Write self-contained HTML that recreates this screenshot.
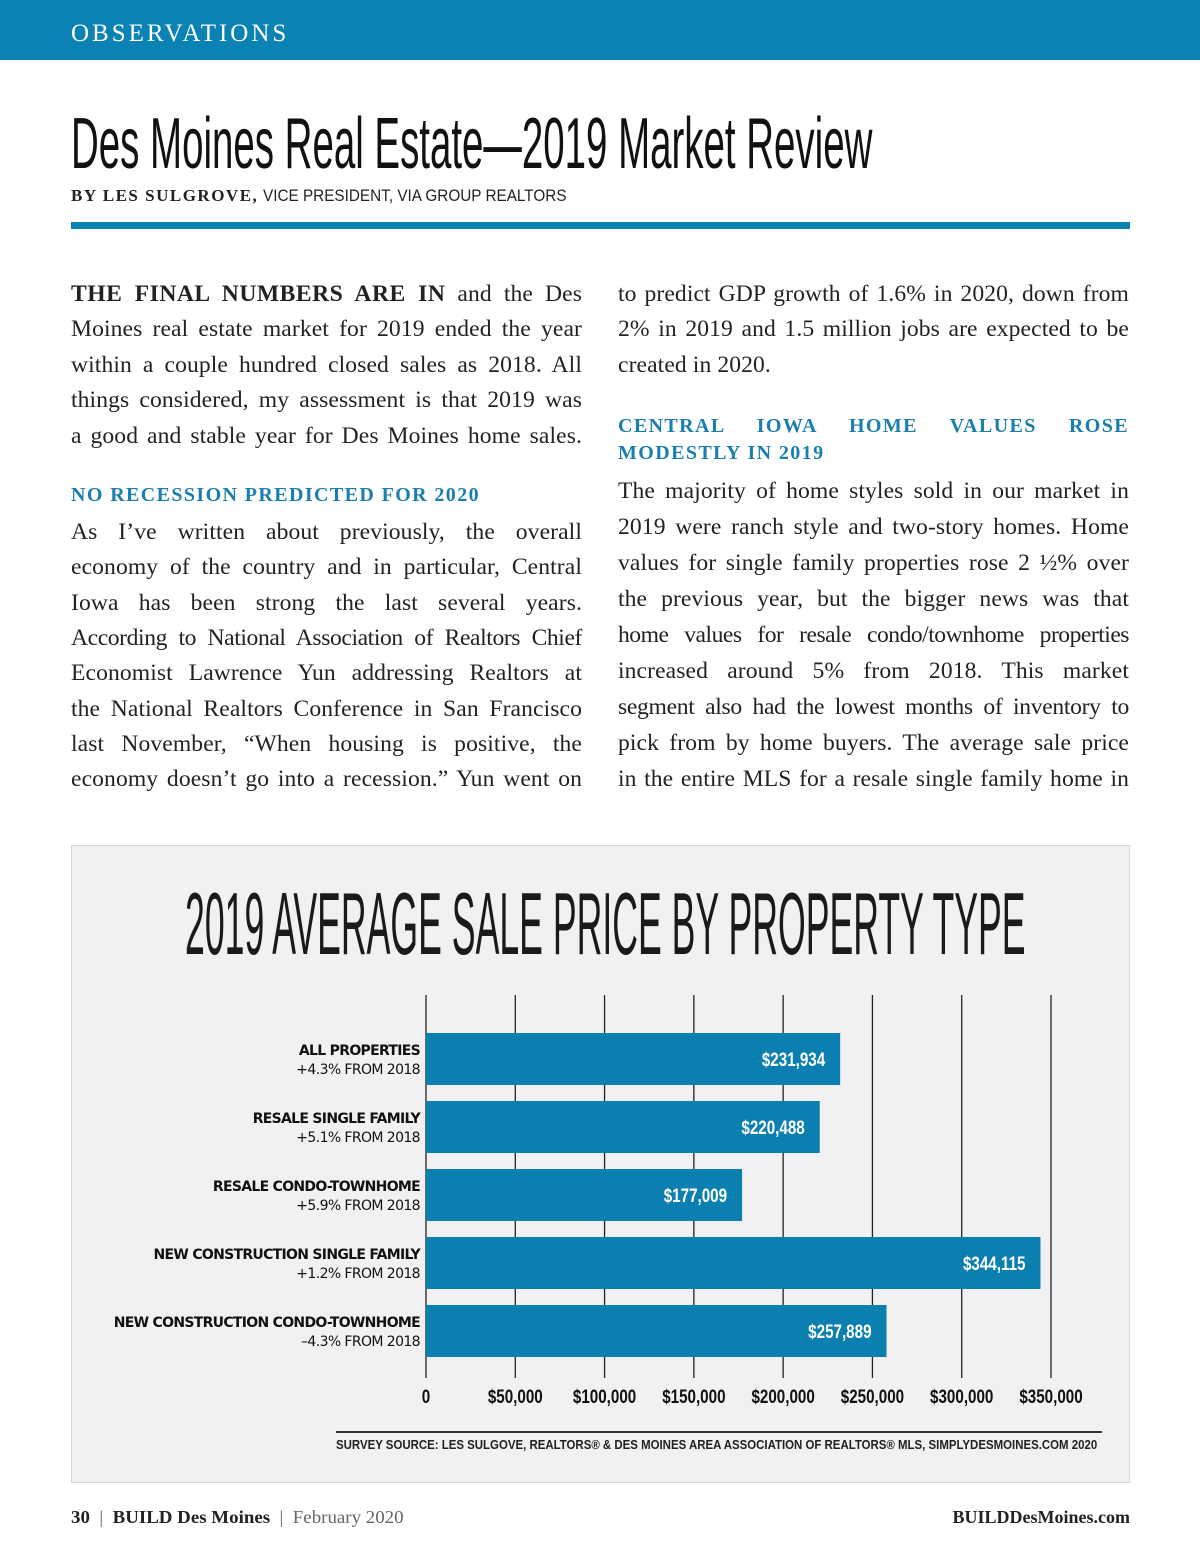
<!DOCTYPE html>
<html><head><meta charset="utf-8">
<style>
body{margin:0;width:1200px;height:1553px;position:relative;background:#fff;overflow:hidden;font-family:"Liberation Serif",serif;color:#222}
.a{position:absolute;white-space:nowrap}
.ln{position:absolute;font-size:23.6px;line-height:30px;text-align:justify;text-align-last:justify;white-space:nowrap;letter-spacing:0.1px}
.ln.e{text-align-last:left}
.h{position:absolute;font-weight:bold;color:#1a7fae;font-size:20px;letter-spacing:1.4px;text-align:justify;text-align-last:justify}
.cond{display:inline-block;transform-origin:left center}
</style></head><body>
<div class="a" style="left:0;top:0;width:1200px;height:60px;background:#0a82b3"></div>
<div class="a" style="left:71px;top:20px;color:#fff;font-size:25px;letter-spacing:3px;font-family:'Liberation Serif',serif">OBSERVATIONS</div>
<div class="a" style="left:71px;top:104px;font-family:'Liberation Sans',sans-serif;font-size:72px;line-height:80px;color:#111"><span class="cond" style="transform:scaleX(0.534)">Des Moines Real Estate—2019 Market Review</span></div>
<div class="a" style="left:71px;top:186px;font-size:17px;font-family:'Liberation Sans',sans-serif"><b style="font-family:'Liberation Serif',serif;letter-spacing:1.5px">BY LES SULGROVE,</b> <span style="display:inline-block;transform:scaleX(0.9);transform-origin:left">VICE PRESIDENT, VIA GROUP REALTORS</span></div>
<div class="a" style="left:71px;top:222px;width:1059px;height:7px;background:#0a82b3"></div>

<div>
<div class="ln" style="left:71px;top:279px;width:511px"><b style="letter-spacing:0.5px">THE FINAL NUMBERS ARE IN</b> and the Des</div>
<div class="ln" style="left:71px;top:314px;width:511px">Moines real estate market for 2019 ended the year</div>
<div class="ln" style="left:71px;top:350px;width:511px">within a couple hundred closed sales as 2018. All</div>
<div class="ln" style="left:71px;top:385px;width:511px">things considered, my assessment is that 2019 was</div>
<div class="ln" style="left:71px;top:421px;width:511px">a good and stable year for Des Moines home sales.</div>
<div class="h" style="left:71px;top:484px">NO RECESSION PREDICTED FOR 2020</div>
<div class="ln" style="left:71px;top:517px;width:511px">As I’ve written about previously, the overall</div>
<div class="ln" style="left:71px;top:552px;width:511px">economy of the country and in particular, Central</div>
<div class="ln" style="left:71px;top:588px;width:511px">Iowa has been strong the last several years.</div>
<div class="ln" style="left:71px;top:623px;width:511px;letter-spacing:-0.4px">According to National Association of Realtors Chief</div>
<div class="ln" style="left:71px;top:658px;width:511px">Economist Lawrence Yun addressing Realtors at</div>
<div class="ln" style="left:71px;top:694px;width:511px">the National Realtors Conference in San Francisco</div>
<div class="ln" style="left:71px;top:729px;width:511px">last November, “When housing is positive, the</div>
<div class="ln" style="left:71px;top:764px;width:511px">economy doesn’t go into a recession.” Yun went on</div>
</div>

<div>
<div class="ln" style="left:618px;top:279px;width:511px">to predict GDP growth of 1.6% in 2020, down from</div>
<div class="ln" style="left:618px;top:314px;width:511px">2% in 2019 and 1.5 million jobs are expected to be</div>
<div class="ln e" style="left:618px;top:350px;width:511px">created in 2020.</div>
<div class="h" style="left:618px;top:415px;width:511px">CENTRAL IOWA HOME VALUES ROSE</div>
<div class="h" style="left:618px;top:442px;text-align-last:left">MODESTLY IN 2019</div>
<div class="ln" style="left:618px;top:476px;width:511px">The majority of home styles sold in our market in</div>
<div class="ln" style="left:618px;top:512px;width:511px">2019 were ranch style and two-story homes. Home</div>
<div class="ln" style="left:618px;top:548px;width:511px">values for single family properties rose 2 ½% over</div>
<div class="ln" style="left:618px;top:584px;width:511px">the previous year, but the bigger news was that</div>
<div class="ln" style="left:618px;top:620px;width:511px;letter-spacing:-0.5px">home values for resale condo/townhome properties</div>
<div class="ln" style="left:618px;top:656px;width:511px">increased around 5% from 2018. This market</div>
<div class="ln" style="left:618px;top:692px;width:511px;letter-spacing:-0.3px">segment also had the lowest months of inventory to</div>
<div class="ln" style="left:618px;top:728px;width:511px">pick from by home buyers. The average sale price</div>
<div class="ln" style="left:618px;top:764px;width:511px">in the entire MLS for a resale single family home in</div>
</div>

<div class="a" style="left:71px;top:845px;width:1057px;height:636px;background:#f1f1f1;border:1px solid #d8d8d8"></div>
<div class="a" style="left:185px;top:878px;font-family:'Liberation Sans',sans-serif;font-size:88px;line-height:92px;color:#1a1a1a"><span class="cond" style="transform:scaleX(0.405)">2019 AVERAGE SALE PRICE BY PROPERTY TYPE</span></div>
<svg class="a" id="chart" style="left:0;top:0" width="1200" height="1553"></svg>
<div class="a" style="left:336px;top:1431px;width:766px;height:2px;background:#333"></div>
<div class="a" style="left:336px;top:1437px;font-family:'Liberation Sans',sans-serif;font-weight:bold;font-size:13px;color:#222"><span class="cond" style="transform:scaleX(0.88)">SURVEY SOURCE: LES SULGOVE, REALTORS® &amp; DES MOINES AREA ASSOCIATION OF REALTORS® MLS, SIMPLYDESMOINES.COM 2020</span></div>

<div class="a" style="left:71px;top:1507px;font-size:18px"><span class="cond" style="transform:scaleX(1.05)"><b>30</b> <span style="color:#666">&nbsp;|&nbsp;</span> <b>BUILD Des Moines</b> <span style="color:#666">&nbsp;|&nbsp;</span> <span style="color:#666">February 2020</span></span></div>
<div class="a" style="right:70px;top:1507px;font-size:18px;font-weight:bold">BUILDDesMoines.com</div>

<script>
const categories=["ALL PROPERTIES","RESALE SINGLE FAMILY","RESALE CONDO-TOWNHOME","NEW CONSTRUCTION SINGLE FAMILY","NEW CONSTRUCTION CONDO-TOWNHOME"];
const changes=["+4.3% FROM 2018","+5.1% FROM 2018","+5.9% FROM 2018","+1.2% FROM 2018","–4.3% FROM 2018"];
const values=[231934,220488,177009,344115,257889];
const valueLabels=["$231,934","$220,488","$177,009","$344,115","$257,889"];
const ticks=[0,50000,100000,150000,200000,250000,300000,350000];
const tickLabels=["0","$50,000","$100,000","$150,000","$200,000","$250,000","$300,000","$350,000"];
const NS="http://www.w3.org/2000/svg";
const svg=document.getElementById('chart');
const x0=426,pxPer=(1051-426)/350000;
const X=v=>x0+v*pxPer;
const Y=i=>1059+i*68;
function mk(t,a,txt){const e=document.createElementNS(NS,t);for(const k in a)e.setAttribute(k,a[k]);if(txt!==undefined)e.textContent=txt;svg.appendChild(e);return e;}
ticks.forEach((t,i)=>{
 const g=mk('line',{x1:X(t),x2:X(t),y1:995,y2:1378,stroke:'#222','stroke-width':1.3});
 
 
 const l=mk('text',{x:X(t),y:1403,'text-anchor':'middle','font-family':'Liberation Sans, sans-serif','font-weight':'bold','font-size':19,fill:'#111',transform:`translate(${X(t)},0) scale(0.8,1) translate(${-X(t)},0)`},tickLabels[i]);
 
 
});
values.forEach((v,i)=>{
 const y=Y(i);
 const b=mk('rect',{x:x0,y:y-26,width:X(v)-x0,height:52,fill:'#0a7fb0'});
 
 
 const vl=mk('text',{x:X(v)-15,y:y+7,'text-anchor':'end','font-family':'Liberation Sans, sans-serif','font-weight':'bold','font-size':19,fill:'#fff',transform:`translate(${X(v)-15},0) scale(0.8,1) translate(${-(X(v)-15)},0)`},valueLabels[i]);
 
 
 const c=mk('text',{x:420,y:y-4,'text-anchor':'end','font-family':'DejaVu Sans, sans-serif','font-weight':'bold','font-size':14,fill:'#111','letter-spacing':-0.7},categories[i]);
 
 
 const ch=mk('text',{x:420,y:y+15,'text-anchor':'end','font-family':'DejaVu Sans, sans-serif','font-size':14,fill:'#111','letter-spacing':-0.6},changes[i]);
 
 
});
</script>
</body></html>
